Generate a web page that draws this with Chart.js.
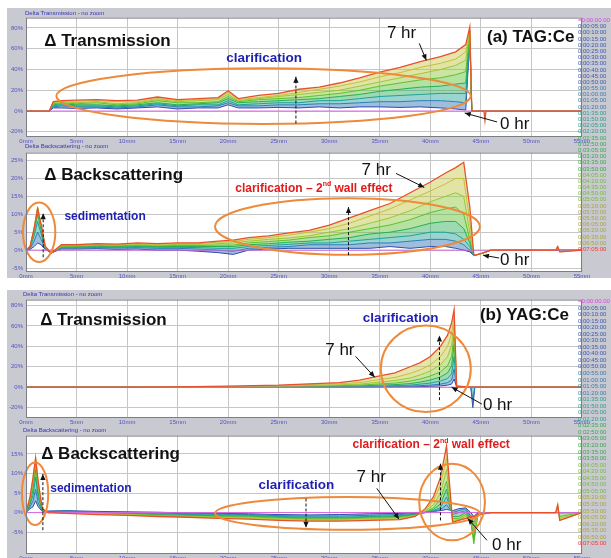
<!DOCTYPE html>
<html>
<head>
<meta charset="utf-8">
<script src="https://cdn.jsdelivr.net/npm/chart.js@4"></script>
<style>
  body { margin: 0; background: #fff; width: 611px; height: 558px; overflow: hidden; position: relative;
         font-family: "Liberation Sans", Arial, sans-serif; }
  .frame { position: absolute; background: #c9c9d2; }
  .ptitle { position: absolute; font-size: 6px; line-height: 7px; color: #3636b0; white-space: nowrap; }
  canvas { position: absolute; }
  .legend { position: absolute; font-size: 6px; white-space: nowrap; }
</style>
</head>
<body>
<div class="frame" style="left:7px;top:8px;width:604px;height:270px"></div>
<div class="frame" style="left:7px;top:290px;width:604px;height:268px"></div>

<canvas id="cTA"></canvas>
<canvas id="cBA"></canvas>
<canvas id="cTB"></canvas>
<canvas id="cBB"></canvas>

<div class="ptitle" style="left:25px;top:10px">Delta Transmission - no zoom</div>
<div class="ptitle" style="left:25px;top:143px">Delta Backscattering - no zoom</div>
<div class="ptitle" style="left:23px;top:291px">Delta Transmission - no zoom</div>
<div class="ptitle" style="left:23px;top:427px">Delta Backscattering - no zoom</div>

<div class="legend" id="legA" style="left:578px;top:17px"></div>
<div class="legend" id="legB" style="left:578px;top:298px"></div>

<script>
// scan times shown as curves (0 hr ... 7 hr)
const curveTimes = ['0:00', '0:05', '1:05', '2:05', '3:05', '4:05', '5:05', '6:05', '7:05'];

// legend column of the instrument
const timeLabels = ['=0:00:00.00', '0:00:05:00', '0:00:10:00', '0:00:15:00', '0:00:20:00', '0:00:25:00',
  '0:00:30:00', '0:00:35:00', '0:00:40:00', '0:00:45:00', '0:00:50:00', '0:00:55:00', '0:01:00:00',
  '0:01:05:00', '0:01:20:00', '0:01:35:00', '0:01:50:00', '0:02:05:00', '0:02:20:00', '0:02:35:00',
  '0:02:50:00', '0:03:05:00', '0:03:20:00', '0:03:35:00', '0:03:50:00', '0:04:05:00', '0:04:20:00',
  '0:04:35:00', '0:04:50:00', '0:05:05:00', '0:05:20:00', '0:05:35:00', '0:05:50:00', '0:06:05:00',
  '0:06:20:00', '0:06:35:00', '0:06:50:00', '0:07:05:00'];

const xTicks = [0, 5, 10, 15, 20, 25, 30, 35, 40, 45, 50, 55];
const yTicksTransA = [-20, 0, 20, 40, 60, 80];
const yTicksBackA = [-5, 0, 5, 10, 15, 20, 25];
const yTicksTransB = [-20, 0, 20, 40, 60, 80];
const yTicksBackB = [-5, 0, 5, 10, 15];

// (a) TAG:Ce  delta transmission, height in mm
const posTransA = [0, 2.3, 2.7, 3.5, 5, 7, 9, 11, 13, 15, 17, 19, 20, 21, 23, 25, 27, 29, 31, 33, 35, 37, 39, 41, 42.5, 43.5, 43.9, 44.1, 45.3, 45.4, 45.5, 50, 55];
const transA = [
  [0, 0, 0, 0, 0, 0, 0, 0, 0, 0, 0, 0, 0, 0, 0, 0, 0, 0, 0, 0, 0, 0, 0, 0, 0, 0, 0, 0, 0, 0, 0, 0, 0],
  [0, 0, 3, 3, 2.5, 3, 2, 3, 4, 2, 3, 3, 6, 3, 3, 3.5, 3, 4, 3, 4, 4, 3.5, 4, 3, 2, 1, 68, 0, 0, 0, 0, 0, 0],
  [0, 0, 4, 5, 4, 4, 3, 4, 6, 4, 4, 5, 8, 5, 5, 6, 6, 7, 7, 8, 9, 9, 10, 10, 9, 8, 70, 0, 0, 0, 0, 0, 0],
  [0, 0, 5, 6, 5, 5, 4, 5, 7, 5, 6, 6, 10, 6, 7, 8, 8, 10, 10, 12, 14, 15, 16, 17, 17, 17, 72, 0, 0, 0, 0, 0, 0],
  [0, 0, 6, 7, 6, 6, 5, 6, 8, 6, 7, 8, 12, 8, 9, 10, 11, 12, 14, 16, 19, 21, 23, 24, 26, 27, 74, 0, 0, 0, 0, 0, 0],
  [0, 0, 7, 8, 7, 8, 6, 7, 10, 8, 8, 9, 14, 9, 11, 12, 13, 15, 17, 20, 24, 27, 30, 32, 35, 38, 76, 0, 0, 0, 0, 0, 0],
  [0, 0, 8, 9, 8, 9, 7, 8, 11, 9, 10, 11, 16, 10, 12, 14, 16, 18, 20, 24, 28, 32, 36, 40, 44, 49, 78, 0, 0, 0, 0, 0, 0],
  [0, 0, 9, 9.5, 9.5, 10, 9, 9, 12, 10, 11, 12, 18, 11, 13, 15, 18, 21, 24, 28, 33, 37, 42, 46, 50, 57, 79, 0, 0, 0, 0, 0, 0],
  [0, 0, 9, 10, 10.5, 11, 10, 10.5, 13.5, 11, 12, 13, 19.5, 12, 15, 17, 21, 23, 27, 32, 37.5, 42, 47.5, 52.5, 57, 64, 81, 0, 0, -9, 0, 0, 0]
];

// (a) TAG:Ce  delta backscattering
const posBackA = [0, 0.4, 0.8, 1.15, 1.5, 1.9, 2.5, 3.5, 5, 7, 9, 11, 13, 15, 17, 19, 20.5, 22, 24, 26, 28, 30, 32, 34, 36, 38, 40, 41.5, 42.5, 43.3, 43.9, 44.3, 45, 46, 50, 52.4, 52.6, 52.8, 55];
const backA = [
  [0, 0, 0, 0, 0, 0, 0, 0, 0, 0, 0, 0, 0, 0, 0, 0, 0, 0, 0, 0, 0, 0, 0, 0, 0, 0, 0, 0, 0, 0, 0, 0, 0, 0, 0, 0, 0, 0, 0],
  [0, 0.2, 1, 2, 1.5, 0.2, -0.8, 0.3, 0.3, 0.4, 0.2, 0.3, 0, 0, -0.3, -0.7, -1.2, 0, 0.3, 0.5, 0.5, 0.5, 0.5, 0.5, 1, 0.5, 1, 1, 0.5, 0, -0.5, -1.5, -1, 0, 0, 0, 0, 0, 0],
  [0, 0.4, 2.5, 5, 3, 0.4, -0.8, 0.6, 0.6, 0.7, 0.6, 0.7, 0.5, 0.5, 0.3, 0, -0.3, 0.5, 0.8, 1, 1.5, 1.5, 1.5, 2, 2, 2.5, 3, 3, 2.5, 1.5, 0, -1.5, -1, 0, 0, 0, 0, 0, 0],
  [0, 0.6, 4, 8, 4.5, 0.6, -0.8, 0.8, 0.8, 0.9, 0.8, 1, 0.8, 0.8, 0.7, 0.5, 0.5, 1, 1.3, 1.6, 2, 2, 2.5, 3, 3.5, 4, 5, 5, 4.5, 3, 1, -1.5, -1, 0, 0, 0, 0, 0, 0],
  [0, 0.8, 5, 10, 5.5, 0.8, -0.8, 1, 1, 1.1, 1, 1.2, 1, 1, 1, 1, 1, 1.5, 1.8, 2.2, 2.5, 3, 3.5, 4.5, 5, 6, 7.5, 8, 8, 6, 2, -1.5, -1, 0, 0, 0, 0, 0, 0],
  [0, 1, 5.5, 11.5, 6.5, 1, -0.8, 1, 1.1, 1.3, 1.2, 1.4, 1.2, 1.3, 1.3, 1.4, 1.4, 2, 2.4, 2.8, 3.5, 4, 5, 6, 7, 8.5, 10.5, 11.5, 12, 10, 3, -1.5, -1, 0, 0, 0, 0.5, 0, 0],
  [0, 1, 6, 12, 7, 1, -0.8, 1.2, 1.2, 1.5, 1.4, 1.6, 1.4, 1.6, 1.6, 1.8, 2, 2.5, 3, 3.4, 4, 5, 6, 7.5, 9, 11, 13.5, 15, 16, 15, 5, -1.5, -1, 0, 0, 0, 0.5, 0, 0],
  [0, 1, 6, 12, 7, 1, -0.8, 1.3, 1.4, 1.6, 1.5, 1.8, 1.6, 1.8, 1.8, 2.2, 2.4, 3, 3.5, 4.2, 5, 6, 7.5, 9.5, 11.5, 14, 16.5, 18.5, 20, 20, 8, -1.5, -1, 0, 0, 0, 1, -0.5, 0],
  [0, 1, 6, 11.5, 7, 1, -0.8, 1.5, 1.5, 1.8, 1.7, 2, 1.8, 2, 2, 2.5, 2.8, 3.5, 4, 4.8, 5.5, 7, 9, 11, 13, 16, 19, 21.5, 23, 24.5, 12, -1.5, -1, 0, 0, 0, 1, -0.5, 0]
];

// (b) YAG:Ce  delta transmission
const posTransB = [0, 5, 10, 15, 20, 25, 28, 31, 33, 35, 36.5, 38, 39, 40, 41, 41.7, 42.1, 42.35, 42.6, 44, 44.2, 44.4, 50, 55];
const transB = [
  [0, 0, 0, 0, 0, 0, 0, 0, 0, 0, 0, 0, 0, 0, 0, 0, 0, 0, 0, 0, 0, 0, 0, 0],
  [0, 0, 0, 0, 0, 0, 0, 0, 0.1, 0.2, 0.3, 0.4, 0.6, 0.8, 1.2, 2, 3, 8, 0, 0, -20, 0, 0, 0],
  [0, 0, 0, 0, 0, 0, 0.1, 0.2, 0.3, 0.5, 0.7, 1, 1.5, 2, 3, 4.5, 7, 18, 0.5, 0, -12, 0, 0, 0],
  [0, 0, 0, 0, 0, 0.1, 0.3, 0.5, 0.7, 1, 1.5, 2, 3, 4, 6, 8.5, 13, 30, 0.5, 0, 0, 0, 0, 0],
  [0, 0, 0, 0, 0.1, 0.3, 0.6, 0.9, 1.2, 2, 2.5, 3.5, 5, 7, 10, 14, 21, 42, 1, 0, 0, 0, 0, 0],
  [0, 0, 0, 0, 0.3, 0.6, 1, 1.5, 2, 3.2, 4, 6, 8, 11, 15, 21, 30, 52, 1, 0, 0, 0, 0, 0],
  [0, 0, 0, 0.1, 0.5, 1, 1.7, 2.3, 3, 5, 6.5, 9, 12, 16, 22, 30, 41, 62, 1, 0, 0, 0, 0, 0],
  [0, 0, 0, 0.2, 0.7, 1.5, 2.5, 3.3, 4.5, 7.5, 9.5, 13.5, 17, 22, 30, 40, 52, 70, 1, 0, 0, 0, 0, 0],
  [0, 0, 0, 0.3, 1, 2, 3.3, 4.5, 7, 11, 14, 20, 24, 30, 40, 51, 63, 76, 1, 0, 0, 0, 0, 0]
];

// (b) YAG:Ce  delta backscattering
const posBackB = [0, 0.4, 0.7, 0.95, 1.2, 1.6, 2.2, 4, 7, 10, 13, 16, 19, 22, 25, 28, 31, 34, 37, 38.5, 39.5, 40.3, 41, 41.6, 42.2, 42.8, 43.5, 44, 44.3, 44.7, 46, 50, 52.4, 52.6, 52.8, 55];
const backB = [
  [0, 0, 0, 0, 0, 0, 0, 0, 0, 0, 0, 0, 0, 0, 0, 0, 0, 0, 0, 0, 0, 0, 0, 0, 0, 0, 0, 0, 0, 0, 0, 0, 0, 0, 0, 0],
  [0, 1, 1.5, 3, 1.5, 0.3, 0.4, 0.5, 0.3, 0.2, 0.1, -0.1, -0.2, -0.3, -0.5, -0.6, -0.5, -0.3, -0.2, 0, 0.2, 0.3, 0.5, 0.8, 0.5, 1, 1.2, 0, -1, 0, 0, 0, 0, 0, 0, 0],
  [0, 1.5, 3, 6, 2.5, 0.4, 0.3, 0.4, 0.1, 0, -0.1, -0.3, -0.4, -0.5, -0.8, -0.9, -0.9, -0.7, -0.5, -0.2, 0, 0.3, 0.8, 2, 0, 0.5, 1, -1, -3, 0, 0, 0, 0, 0, 0, 0],
  [0, 2, 4.5, 9, 4, 0.5, 0.2, 0.3, 0, -0.2, -0.3, -0.5, -0.6, -0.7, -1, -1.2, -1.2, -1, -0.8, -0.4, 0, 0.5, 1.3, 4, -0.5, 0, 0.5, -1.5, -5, -0.5, 0, 0, 0, 0, 0, 0],
  [0, 2.5, 6, 11, 5, 0.6, 0, 0.2, -0.1, -0.3, -0.5, -0.7, -0.8, -0.9, -1.2, -1.4, -1.4, -1.2, -1, -0.5, 0, 0.8, 2.2, 6, -1, -1, 0, -2, -7, -0.5, 0, 0, 0, 0, 0, 0],
  [0, 3, 7, 12.5, 6, 0.8, 0, 0.1, -0.2, -0.4, -0.7, -0.9, -1, -1.1, -1.4, -1.6, -1.6, -1.4, -1.2, -0.7, 0.2, 1.2, 3.5, 8, -1.5, -1.5, -0.5, -2.5, -8, -0.5, 0, 0, 0, 1, -1, 0],
  [0, 3.5, 8, 13.5, 7, 1, 0, 0, -0.3, -0.5, -0.8, -1, -1.2, -1.3, -1.6, -1.8, -1.8, -1.6, -1.4, -0.8, 0.4, 2, 5, 11, -2, -1.8, -1, -2, -5, -0.5, 0, 0, 0, 1.5, -1.5, 0],
  [0, 4, 9, 14, 8, 1, 0, -0.1, -0.4, -0.6, -0.9, -1.1, -1.3, -1.5, -1.8, -2, -2, -1.8, -1.6, -0.9, 0.6, 3, 7, 14, -2.3, -2, -1.5, -1.5, -3, -0.5, 0, 0, 0, 2, -2, 0],
  [0, 4, 9, 14, 8, 1, 0, -0.2, -0.5, -0.7, -1, -1.2, -1.5, -1.7, -2, -2.2, -2.2, -2, -1.8, -1, 1, 4, 9, 17, -2.5, -2, -1.5, -1, -1, -0.5, 0, 0, 0, 2, -2, 0]
];

// styles
const lineColors = ['#d865e0', '#2c4fa8', '#2b7fb5', '#1f9f9a', '#26ae55', '#5cbf2e', '#9cc634', '#c4bf3a', '#e8502c'];
const fillColors = [null, null, 'rgba(43,110,181,0.45)', 'rgba(31,159,154,0.45)', 'rgba(38,174,85,0.45)',
  'rgba(92,191,46,0.45)', 'rgba(140,198,52,0.45)', 'rgba(190,196,58,0.45)', 'rgba(200,200,70,0.45)'];
const BLUE = '#1f1fb4', RED = '#e21b1b', ORANGE = '#ee8a3a', INK = '#111';
const BIG = 'bold 17px "Liberation Sans"', HR = '17px "Liberation Sans"';

function legendColor(i) {
  if (i === 0) return '#e040e0';
  if (i === timeLabels.length - 1) return '#ff3030';
  if (i <= 10) return '#3a58a8';
  if (i <= 14) return '#3a7ca8';
  if (i <= 18) return '#2f9a8a';
  if (i <= 24) return '#38a848';
  if (i <= 29) return '#78b840';
  return '#a8a640';
}
function fillLegend(id, step) {
  const el = document.getElementById(id);
  el.style.lineHeight = step + 'px';
  el.innerHTML = timeLabels.map((t, i) => `<div style="color:${legendColor(i)}">${t}</div>`).join('');
}
fillLegend('legA', 6.19);
fillLegend('legB', 6.54);

const framePlugin = {
  id: 'frame',
  beforeDraw(chart) {
    const { ctx, chartArea: a } = chart;
    ctx.save();
    ctx.fillStyle = '#fff';
    ctx.fillRect(a.left, a.top, a.width, a.height);
    ctx.restore();
  },
  afterDraw(chart) {
    const { ctx, chartArea: a } = chart;
    ctx.save();
    ctx.strokeStyle = '#7d7d85';
    ctx.lineWidth = 1;
    ctx.strokeRect(a.left + 0.5, a.top + 0.5, a.width - 1, a.height - 1);
    ctx.restore();
  }
};

function arrowHead(ctx, x1, y1, x2, y2) {
  const ang = Math.atan2(y2 - y1, x2 - x1);
  ctx.beginPath();
  ctx.moveTo(x2, y2);
  ctx.lineTo(x2 - 6 * Math.cos(ang) + 2.6 * Math.sin(ang), y2 - 6 * Math.sin(ang) - 2.6 * Math.cos(ang));
  ctx.lineTo(x2 - 6 * Math.cos(ang) - 2.6 * Math.sin(ang), y2 - 6 * Math.sin(ang) + 2.6 * Math.cos(ang));
  ctx.closePath();
  ctx.fill();
}

const notesPlugin = {
  id: 'notes',
  afterDatasetsDraw(chart, args, opts) {
    const { ctx } = chart;
    const sx = chart.scales.x, sy = chart.scales.y;
    const px = v => sx.getPixelForValue(v), py = v => sy.getPixelForValue(v);
    ctx.save();
    ctx.strokeStyle = ORANGE;
    ctx.lineWidth = 2;
    (opts.ellipses || []).forEach(e => {
      const cx = px(e.cx), cy = py(e.cy);
      ctx.beginPath();
      ctx.ellipse(cx, cy, Math.abs(px(e.cx + e.rx) - cx), Math.abs(py(e.cy + e.ry) - cy), 0, 0, Math.PI * 2);
      ctx.stroke();
    });
    ctx.strokeStyle = INK;
    ctx.fillStyle = INK;
    ctx.lineWidth = 1;
    (opts.arrows || []).forEach(a => {
      const x1 = px(a.x1), y1 = py(a.y1), x2 = px(a.x2), y2 = py(a.y2);
      ctx.setLineDash(a.dash ? [3, 2] : []);
      ctx.beginPath();
      ctx.moveTo(x1, y1);
      ctx.lineTo(x2, y2);
      ctx.stroke();
      ctx.setLineDash([]);
      arrowHead(ctx, x1, y1, x2, y2);
    });
    ctx.textBaseline = 'middle';
    ctx.textAlign = 'left';
    (opts.texts || []).forEach(t => {
      let x = px(t.x);
      const y = py(t.y);
      ctx.fillStyle = t.color;
      t.parts.forEach(p => {
        if (typeof p === 'string') {
          ctx.font = t.font;
          ctx.fillText(p, x, y);
          x += ctx.measureText(p).width;
        } else {
          ctx.font = p.font;
          ctx.fillText(p.sup, x, y - 4);
          x += ctx.measureText(p.sup).width;
        }
      });
    });
    ctx.restore();
  }
};

function buildDatasets(pos, series) {
  return series.map((vals, i) => ({
    label: curveTimes[i],
    data: vals.map((v, k) => ({ x: pos[k], y: v })),
    borderColor: lineColors[i],
    borderWidth: i === 8 ? 1.3 : 1,
    backgroundColor: fillColors[i] || 'transparent',
    fill: fillColors[i] ? '-1' : false,
    pointRadius: 0,
    tension: 0,
    order: i === 8 ? 0 : (i === 0 ? 1 : 10 - i)
  }));
}

function makePanel(id, plotTop, plotBottom, yMin, yMax, yTicks, pos, series, notes) {
  const cv = document.getElementById(id);
  const padTop = 6;
  const w = 585, h = plotBottom - plotTop + padTop + 10;
  cv.width = w; cv.height = h;
  cv.style.left = '7px';
  cv.style.top = (plotTop - padTop) + 'px';
  cv.style.width = w + 'px'; cv.style.height = h + 'px';
  new Chart(cv, {
    type: 'line',
    data: { datasets: buildDatasets(pos, series) },
    options: {
      responsive: false,
      animation: false,
      devicePixelRatio: 1,
      layout: { padding: { top: padTop, right: 10, left: 0, bottom: 0 } },
      plugins: {
        legend: { display: false },
        tooltip: { enabled: false },
        filler: { drawTime: 'beforeDatasetsDraw' },
        notes: notes
      },
      scales: {
        x: {
          type: 'linear', min: 0, max: 55,
          afterBuildTicks: s => { s.ticks = xTicks.map(v => ({ value: v })); },
          afterFit: s => { s.height = 10; },
          grid: { color: '#c6c6c6', drawTicks: false },
          border: { display: false },
          ticks: { autoSkip: false, maxRotation: 0, padding: 1, color: '#5252c4',
                   font: { size: 6 }, callback: v => v + 'mm' }
        },
        y: {
          min: yMin, max: yMax,
          afterBuildTicks: s => { s.ticks = yTicks.map(v => ({ value: v })); },
          afterFit: s => { s.width = 19; },
          grid: { color: '#c6c6c6', drawTicks: false },
          border: { display: false },
          ticks: { padding: 3, color: '#5252c4', font: { size: 6 }, callback: v => v + '%' }
        }
      }
    },
    plugins: [framePlugin, notesPlugin]
  });
}

Chart.defaults.font.family = '"Liberation Sans", Arial, sans-serif';

makePanel('cTA', 17, 137, -25, 90, yTicksTransA, posTransA, transA, {
  ellipses: [{ cx: 23.5, cy: 14.4, rx: 20.5, ry: 26.8 }],
  arrows: [
    { x1: 26.7, y1: -12, x2: 26.7, y2: 33, dash: true },
    { x1: 38.9, y1: 65.2, x2: 39.6, y2: 48.9 },
    { x1: 46.6, y1: -10.5, x2: 43.4, y2: -1.9 }
  ],
  texts: [
    { x: 1.8, y: 67.1, parts: ['\u0394 Transmission'], font: BIG, color: INK },
    { x: 45.6, y: 71, parts: ['(a) TAG:Ce'], font: BIG, color: INK },
    { x: 19.8, y: 50.8, parts: ['clarification'], font: 'bold 13.5px "Liberation Sans"', color: BLUE },
    { x: 35.7, y: 74.8, parts: ['7 hr'], font: HR, color: INK },
    { x: 46.9, y: -12.5, parts: ['0 hr'], font: HR, color: INK }
  ]
});

makePanel('cBA', 152, 272, -6.1, 27.2, yTicksBackA, posBackA, backA, {
  ellipses: [{ cx: 1.3, cy: 5, rx: 1.6, ry: 8.3 }, { cx: 31.8, cy: 6.6, rx: 13.1, ry: 7.9 }],
  arrows: [
    { x1: 1.7, y1: -2, x2: 1.7, y2: 10.3, dash: true },
    { x1: 31.9, y1: -1.4, x2: 31.9, y2: 12, dash: true },
    { x1: 36.6, y1: 21.4, x2: 39.4, y2: 17.5 },
    { x1: 46.8, y1: -2.2, x2: 45.2, y2: -1.4 }
  ],
  texts: [
    { x: 1.8, y: 20.8, parts: ['\u0394 Backscattering'], font: BIG, color: INK },
    { x: 20.7, y: 17.2, parts: ['clarification \u2013 2', { sup: 'nd', font: 'bold 7px "Liberation Sans"' }, ' wall effect'],
      font: 'bold 12px "Liberation Sans"', color: RED },
    { x: 3.8, y: 9.2, parts: ['sedimentation'], font: 'bold 12px "Liberation Sans"', color: BLUE },
    { x: 33.2, y: 22.2, parts: ['7 hr'], font: HR, color: INK },
    { x: 46.9, y: -2.8, parts: ['0 hr'], font: HR, color: INK }
  ]
});

makePanel('cTB', 299, 418, -30.2, 85.8, yTicksTransB, posTransB, transB, {
  ellipses: [{ cx: 39.55, cy: 18, rx: 4.45, ry: 42.4 }],
  arrows: [
    { x1: 40.9, y1: -12.7, x2: 40.9, y2: 50.7, dash: true },
    { x1: 32.6, y1: 30.2, x2: 34.5, y2: 9.7 },
    { x1: 45.1, y1: -16.6, x2: 42.1, y2: 0 }
  ],
  texts: [
    { x: 1.4, y: 65.3, parts: ['\u0394 Transmission'], font: BIG, color: INK },
    { x: 44.9, y: 70.2, parts: ['(b) YAG:Ce'], font: BIG, color: INK },
    { x: 33.3, y: 67.3, parts: ['clarification'], font: 'bold 13.5px "Liberation Sans"', color: BLUE },
    { x: 29.6, y: 36.1, parts: ['7 hr'], font: HR, color: INK },
    { x: 45.2, y: -17.5, parts: ['0 hr'], font: HR, color: INK }
  ]
});

makePanel('cBB', 435, 554, -10.6, 19.7, yTicksBackB, posBackB, backB, {
  ellipses: [
    { cx: 0.9, cy: 4.8, rx: 1.3, ry: 8 },
    { cx: 31.8, cy: -0.2, rx: 13.1, ry: 4.2 },
    { cx: 42.15, cy: 2.7, rx: 3.25, ry: 9.8 }
  ],
  arrows: [
    { x1: 1.67, y1: -4.5, x2: 1.67, y2: 9.9, dash: true },
    { x1: 27.7, y1: 3.6, x2: 27.7, y2: -3.9, dash: true },
    { x1: 41, y1: -2, x2: 41, y2: 12.5, dash: true },
    { x1: 34.7, y1: 6.2, x2: 36.9, y2: -1.7 },
    { x1: 45.6, y1: -7.1, x2: 43.7, y2: -1.5 }
  ],
  texts: [
    { x: 1.5, y: 14.8, parts: ['\u0394 Backscattering'], font: BIG, color: INK },
    { x: 2.4, y: 6.2, parts: ['sedimentation'], font: 'bold 12px "Liberation Sans"', color: BLUE },
    { x: 23, y: 6.9, parts: ['clarification'], font: 'bold 13.5px "Liberation Sans"', color: BLUE },
    { x: 32.3, y: 17.4, parts: ['clarification \u2013 2', { sup: 'nd', font: 'bold 7px "Liberation Sans"' }, ' wall effect'],
      font: 'bold 12px "Liberation Sans"', color: RED },
    { x: 32.7, y: 9.1, parts: ['7 hr'], font: HR, color: INK },
    { x: 46.1, y: -8.3, parts: ['0 hr'], font: HR, color: INK }
  ]
});
</script>
</body>
</html>
